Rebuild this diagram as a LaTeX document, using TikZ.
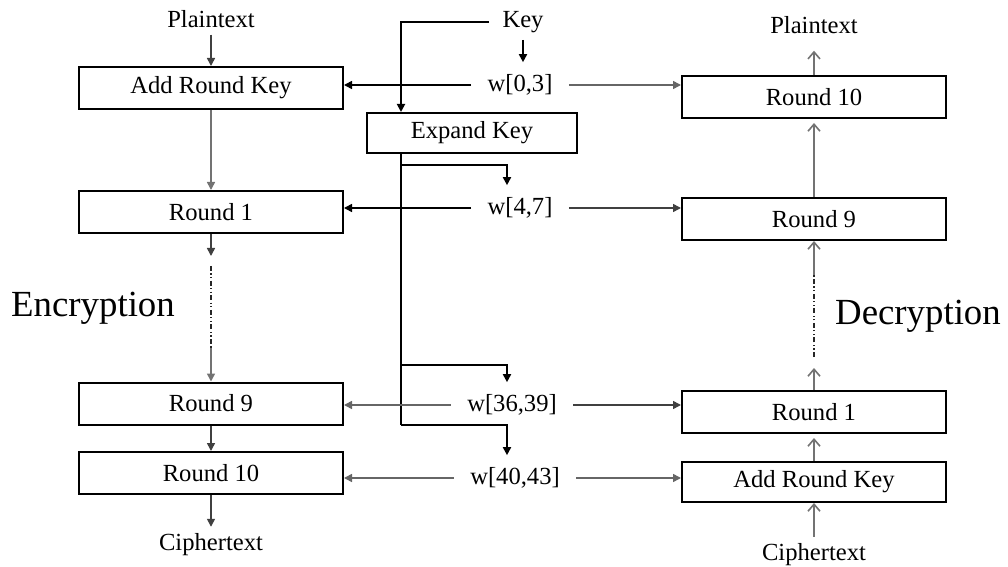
\documentclass[tikz,border=0pt]{standalone}
\usepackage{fontspec}
\setmainfont{Liberation Serif}
\usetikzlibrary{arrows.meta}
\newcommand\lblfont{\fontsize{12.3}{14}\selectfont}
\newcommand\encfont{\fontsize{18.4}{22}\selectfont}

\begin{document}
\begin{tikzpicture}[x=0.5pt,y=-0.5pt,font=\lblfont,
  blk/.style={draw,line width=1pt,minimum width=132pt,minimum height=21pt,inner sep=0pt},
  wlbl/.style={inner xsep=8pt,inner ysep=6pt},
  ln/.style={line width=0.8pt,black!75},
  keyln/.style={line width=0.9pt,black},
  dn/.style={-{Triangle[length=4pt,width=4pt]}},
  upo/.style={-{Straight Barb[length=3.5pt,width=6pt]},black!55},
  dotted line/.style={line width=0.9pt,black!85,dash pattern=on 2.5pt off 1.2pt on 0.6pt off 1.2pt on 0.6pt off 1.2pt}]
\useasboundingbox (0,0) rectangle (1008,567);
% encryption side
\node (pt1) at (211,19) {Plaintext};
\node[blk] (ark) at (211,88) {Add Round Key};
\node[blk] (er1) at (211,212) {Round 1};
\node[blk] (er9) at (211,403.5) {Round 9};
\node[blk] (er10) at (211,473) {Round 10};
\node (ct1) at (211,545) {Ciphertext};
\node[font=\encfont] (enc) at (93,308) {Encryption};
\coordinate (ea) at (211,256);
\coordinate (eb) at (211,266);
\coordinate (ec) at (211,348);
\draw[ln,dn] (pt1) -- (ark);
\draw[ln,dn,black!55] (ark) -- (er1);
\draw[ln,dn] (er1) -- (ea);
\draw[dotted line] (eb) -- (ec);
\draw[ln,dn,black!55] (ec) -- (er9);
\draw[ln,dn] (er9) -- (er10);
\draw[ln,dn] (er10) -- (ct1);
% key schedule
\node[inner xsep=6.5pt] (key) at (523,22) {Key};
\node[wlbl] (w03) at (520,85) {w[0,3]};
\node[blk,minimum width=105pt,minimum height=20pt] (ek) at (472,133) {Expand Key};
\node[wlbl] (w47) at (520,208) {w[4,7]};
\node[wlbl] (w3639) at (512,405) {w[36,39]};
\node[wlbl] (w4043) at (515,478) {w[40,43]};
\coordinate (j1) at (401,165);
\coordinate (j2) at (401,365);
\coordinate (j3) at (401,425);
\coordinate (tap) at (507,0);
\draw[keyln,dn] (key.west) -| (ek.north -| j1);
\draw[keyln,dn] (key.south) -- (key.south |- w03.north);
\draw[keyln] (ek.south -| j1) -- (j3);
\draw[keyln,dn] (j1) -| (w47.north -| tap);
\draw[keyln,dn] (j2) -| (w3639.north -| tap);
\draw[keyln,dn] (j3) -| (w4043.north -| tap);
% decryption side
\node (pt2) at (814,25) {Plaintext};
\node[blk] (dr10) at (814,97) {Round 10};
\node[blk] (dr9) at (814,219) {Round 9};
\node[blk] (dr1) at (814,412) {Round 1};
\node[blk,minimum height=20pt] (dark) at (814,482) {Add Round Key};
\node (ct2) at (814,555) {Ciphertext};
\node[font=\encfont] (dec) at (918,316) {Decryption};
\coordinate (da) at (814,368);
\coordinate (db) at (814,357);
\coordinate (dc) at (814,275);
\draw[ln,upo,shorten >=5pt] (dr10) -- (pt2);
\draw[ln,upo,shorten >=2pt] (dr9) -- (dr10);
\draw[ln,upo] (dc) -- (dr9);
\draw[dotted line] (db) -- (dc);
\draw[ln,upo] (dr1) -- (da);
\draw[ln,upo,shorten >=2pt] (dark) -- (dr1);
\draw[ln,upo] (ct2) -- (dark);
% round keys to both sides
\draw[ln,dn,black] (w03.west) -- (w03.west -| ark.east);
\draw[ln,dn,black!60] (w03.east) -- (w03.east -| dr10.west);
\draw[ln,dn,black] (w47.west) -- (w47.west -| er1.east);
\draw[ln,dn] (w47.east) -- (w47.east -| dr9.west);
\draw[ln,dn,black!60] (w3639.west) -- (w3639.west -| er9.east);
\draw[ln,dn] (w3639.east) -- (w3639.east -| dr1.west);
\draw[ln,dn,black!60] (w4043.west) -- (w4043.west -| er10.east);
\draw[ln,dn,black!60] (w4043.east) -- (w4043.east -| dark.west);
\end{tikzpicture}
\end{document}
